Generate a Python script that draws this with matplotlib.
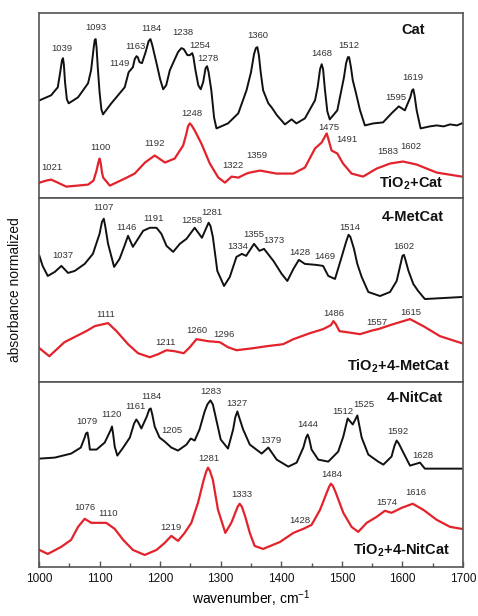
import matplotlib
matplotlib.use("Agg")
import matplotlib.pyplot as plt
from matplotlib.ticker import MultipleLocator

plt.rcParams['font.family'] = ['Liberation Sans', 'DejaVu Sans']

# ---------------- data (wavenumber cm-1, normalized absorbance, arbitrary offset units) -------------
cat_wn = [1001, 1020, 1031, 1035, 1038, 1039.6, 1041, 1043, 1046, 1049, 1064.5, 1081, 1086, 1090,
          1092, 1093.5, 1095, 1097, 1100, 1103, 1105.7, 1119.4, 1141.5, 1148, 1155, 1158, 1161, 1163,
          1166, 1170, 1176, 1181, 1184, 1187, 1194, 1200, 1205, 1210, 1216, 1229.5, 1235, 1239, 1245,
          1249, 1253, 1255, 1258, 1263, 1267, 1271, 1275, 1277.5, 1280, 1284.5, 1289, 1293, 1312, 1329,
          1342.6, 1350, 1355, 1358, 1360.5, 1363, 1366, 1370, 1378.6, 1384, 1393, 1406, 1417, 1425,
          1439, 1455.7, 1460, 1464, 1466.7, 1469, 1472, 1476, 1480, 1492.5, 1503.5, 1507, 1510, 1512,
          1515, 1518, 1523, 1530, 1538, 1552, 1568, 1582, 1594, 1604, 1613, 1616, 1618, 1620, 1623.5,
          1630, 1645, 1656.6, 1668, 1678.6, 1690, 1698]
cat_abs = [0.97, 1.02, 1.10, 1.25, 1.37, 1.39, 1.33, 1.15, 0.98, 0.94, 1.00, 1.14, 1.27, 1.48,
           1.57, 1.58, 1.50, 1.30, 1.05, 0.88, 0.83, 0.94, 1.10, 1.25, 1.30, 1.38, 1.41, 1.40,
           1.35, 1.34, 1.45, 1.56, 1.58, 1.52, 1.34, 1.18, 1.08, 1.12, 1.27, 1.45, 1.49, 1.48, 1.42,
           1.42, 1.44, 1.40, 1.28, 1.12, 1.08, 1.15, 1.29, 1.31, 1.25, 1.07, 0.80, 0.69, 0.74, 0.84,
           1.07, 1.25, 1.43, 1.49, 1.50, 1.42, 1.25, 1.07, 0.94, 0.90, 0.82, 0.73, 0.78, 0.74,
           0.79, 0.97, 1.10, 1.28, 1.33, 1.28, 1.08, 0.86, 0.78, 0.87, 1.20, 1.34, 1.40, 1.40,
           1.30, 1.17, 1.05, 0.87, 0.72, 0.74, 0.75, 0.84, 0.91, 0.87, 1.00, 1.07, 1.08, 1.02, 0.87,
           0.69, 0.71, 0.72, 0.71, 0.73, 0.72, 0.74]

tio2_cat_wn = [1001, 1012, 1020, 1031, 1045, 1081, 1090, 1095, 1098, 1100, 1102, 1104, 1106, 1117,
               1141.5, 1158, 1175, 1191, 1208, 1224, 1238, 1243, 1246, 1249, 1252, 1257, 1268, 1282,
               1296, 1307, 1318, 1329, 1342.6, 1348, 1365, 1392, 1420, 1439, 1455.7, 1466.7, 1473,
               1475, 1477.5, 1483, 1492.5, 1502, 1516, 1535, 1557.5, 1579.5, 1590, 1601, 1623.5,
               1656.6, 1698]
tio2_cat_abs = [0.15, 0.17, 0.18, 0.15, 0.11, 0.13, 0.17, 0.27, 0.35, 0.39, 0.34, 0.25, 0.20, 0.12,
                0.19, 0.24, 0.35, 0.42, 0.35, 0.39, 0.52, 0.63, 0.71, 0.74, 0.72, 0.67, 0.54, 0.34,
                0.20, 0.15, 0.21, 0.20, 0.24, 0.25, 0.27, 0.24, 0.24, 0.30, 0.49, 0.55, 0.62,
                0.64, 0.59, 0.47, 0.44, 0.34, 0.24, 0.21, 0.29, 0.34, 0.35, 0.36, 0.33,
                0.25, 0.21]

met_wn = [1000.7, 1006, 1014.5, 1026, 1037, 1048, 1059, 1075.4, 1089, 1100, 1104, 1107, 1109.5,
          1114, 1124, 1133, 1140.5, 1147, 1155, 1163.5, 1172, 1183, 1194, 1202, 1210.5, 1221.5,
          1232.5, 1243.5, 1257, 1269, 1277, 1280, 1283, 1287, 1294.4, 1305.5, 1315, 1326, 1335,
          1342, 1355, 1364, 1371.5, 1387, 1400.7, 1410, 1420, 1429, 1439, 1458, 1469, 1477.6,
          1488.7, 1499.7, 1507, 1511, 1514, 1520, 1525.5, 1532.7, 1543.7, 1563, 1579.5, 1590.5,
          1597, 1600, 1602.5, 1605, 1610, 1618, 1626, 1637, 1667.5, 1698]
met_abs = [1.26, 1.16, 1.06, 1.10, 1.16, 1.09, 1.11, 1.18, 1.28, 1.48, 1.60, 1.63, 1.55,
           1.38, 1.15, 1.23, 1.35, 1.46, 1.35, 1.43, 1.51, 1.54, 1.54, 1.48, 1.36, 1.30,
           1.38, 1.43, 1.54, 1.44, 1.55, 1.59, 1.56, 1.45, 1.11, 0.96, 1.05, 1.25, 1.28,
           1.26, 1.38, 1.31, 1.33, 1.21, 1.08, 1.01, 1.13, 1.22, 1.18, 1.17, 1.16, 1.06,
           1.03, 1.25, 1.40, 1.47, 1.45, 1.33, 1.18, 1.05, 0.90, 0.86, 0.90, 1.01,
           1.18, 1.26, 1.27, 1.22, 1.11, 0.98, 0.91, 0.83, 0.84, 0.85]

tio2_met_wn = [1000.7, 1017, 1042, 1061.6, 1078, 1092, 1114, 1128, 1147, 1163.5, 1183, 1196.5, 1210.5,
               1224, 1239, 1249, 1260, 1279, 1298.5, 1312, 1326, 1353.6, 1376, 1403, 1420, 1447.5,
               1469, 1482, 1486, 1490, 1496, 1508, 1530, 1552, 1560, 1585, 1612.5, 1634.5, 1662, 1698]
tio2_met_abs = [0.34, 0.26, 0.40, 0.46, 0.51, 0.56, 0.59, 0.51, 0.38, 0.29, 0.25, 0.28, 0.32,
                0.31, 0.29, 0.35, 0.43, 0.41, 0.40, 0.35, 0.32, 0.34, 0.36, 0.38, 0.43, 0.49,
                0.53, 0.57, 0.61, 0.58, 0.51, 0.50, 0.48, 0.52, 0.53, 0.58, 0.63, 0.56, 0.46, 0.39]

nit_wn = [1000.7, 1026, 1053, 1069, 1075.4, 1077.5, 1080, 1082, 1084, 1095, 1108.5, 1118, 1120.5,
          1122.5, 1125, 1129.3, 1139, 1150, 1157, 1160.7, 1164, 1169, 1178, 1182, 1184.5, 1187, 1191,
          1199, 1207.5, 1218.5, 1229.5, 1243.5, 1250.5, 1257, 1265, 1273.5, 1278, 1283, 1287, 1290,
          1300, 1312, 1320.5, 1324, 1327.5, 1330, 1337, 1348, 1367.6, 1378.6, 1392.4, 1411.6, 1425.4,
          1436.4, 1441, 1443.6, 1446, 1450, 1461, 1477.6, 1494, 1502.4, 1509.6, 1518, 1525.6,
          1532.7, 1543.7, 1560, 1568.5, 1582, 1587, 1590.5, 1594, 1601.5, 1612.5, 1629, 1637,
          1667.5, 1698]
nit_abs = [1.08, 1.09, 1.13, 1.19, 1.29, 1.33, 1.34, 1.27, 1.17, 1.17, 1.24, 1.36, 1.40,
           1.32, 1.20, 1.11, 1.19, 1.29, 1.43, 1.47, 1.44, 1.38, 1.50, 1.57, 1.58, 1.52, 1.40,
           1.29, 1.25, 1.19, 1.16, 1.22, 1.28, 1.26, 1.37, 1.55, 1.62, 1.66, 1.62, 1.54,
           1.27, 1.18, 1.37, 1.49, 1.55, 1.50, 1.37, 1.22, 1.13, 1.19, 1.07, 1.00, 1.04,
           1.19, 1.29, 1.32, 1.28, 1.17, 1.07, 1.05, 1.15, 1.30, 1.48, 1.42, 1.51,
           1.29, 1.12, 1.05, 1.02, 1.10, 1.21, 1.26, 1.23, 1.14, 1.01, 1.04, 0.98,
           0.98, 0.98]

tio2_nit_wn = [1000.7, 1014.5, 1036.5, 1053, 1064.5, 1075.4, 1086.4, 1097.5, 1111, 1125, 1139, 1155,
               1174.5, 1194, 1207.5, 1218.5, 1229.5, 1240.5, 1251.5, 1262.5, 1272, 1276, 1279, 1282,
               1287, 1295.5, 1307.6, 1317.5, 1328, 1331.3, 1335, 1340.6, 1348, 1356, 1370, 1398, 1420,
               1436.4, 1450, 1464, 1475, 1479, 1482, 1485, 1490, 1502.4, 1516, 1527, 1541, 1557.5,
               1571, 1582, 1599, 1617, 1634.5, 1656.6, 1678.6, 1698]
tio2_nit_abs = [0.17, 0.13, 0.20, 0.27, 0.40, 0.48, 0.44, 0.44, 0.44, 0.38, 0.27, 0.17,
                0.12, 0.17, 0.24, 0.31, 0.26, 0.34, 0.44, 0.64, 0.87, 0.95, 0.99, 0.96,
                0.87, 0.57, 0.34, 0.44, 0.60, 0.63, 0.60, 0.50, 0.34, 0.21, 0.18, 0.25, 0.34,
                0.38, 0.42, 0.57, 0.74, 0.80, 0.83, 0.81, 0.74, 0.54, 0.40, 0.35, 0.44, 0.50,
                0.56, 0.54, 0.59, 0.63, 0.57, 0.47, 0.40, 0.38]

# peak labels: (text, wavenumber, height)
cat_labels = [("1039", 1037.5, 1.49), ("1093", 1093.6, 1.70), ("1149", 1132.6, 1.34),
              ("1163", 1158.5, 1.51), ("1184", 1185, 1.69), ("1238", 1237, 1.65),
              ("1254", 1266, 1.52), ("1278", 1279.6, 1.39), ("1360", 1360.4, 1.62),
              ("1468", 1466.7, 1.44), ("1512", 1512, 1.52), ("1595", 1589, 1.00),
              ("1619", 1617, 1.20)]
tio2_cat_labels = [("1021", 1021, 0.30), ("1100", 1100.7, 0.50), ("1192", 1191.5, 0.54),
                   ("1248", 1253, 0.84), ("1322", 1319.8, 0.32), ("1359", 1359.4, 0.42),
                   ("1475", 1479, 0.70), ("1491", 1508, 0.58), ("1583", 1575, 0.46),
                   ("1602", 1613.6, 0.51)]
met_labels = [("1037", 1040, 1.26), ("1107", 1107, 1.74), ("1146", 1144.8, 1.54),
              ("1191", 1188.7, 1.63), ("1258", 1252, 1.61), ("1281", 1285, 1.69),
              ("1334", 1327.4, 1.35), ("1355", 1353.8, 1.47), ("1373", 1388.5, 1.41),
              ("1428", 1431, 1.29), ("1469", 1472, 1.25), ("1514", 1513.5, 1.54),
              ("1602", 1602.6, 1.35)]
tio2_met_labels = [("1111", 1110.6, 0.68), ("1211", 1209, 0.40), ("1260", 1260, 0.52),
                   ("1296", 1305.4, 0.48), ("1486", 1486, 0.69), ("1557", 1557.5, 0.60),
                   ("1615", 1613.7, 0.70)]
nit_labels = [("1079", 1079.8, 1.45), ("1120", 1120, 1.52), ("1161", 1158.5, 1.60),
              ("1184", 1186, 1.70), ("1205", 1219, 1.36), ("1283", 1283.5, 1.75),
              ("1327", 1327.4, 1.63), ("1379", 1382.5, 1.26), ("1444", 1443.6, 1.42),
              ("1512", 1502.4, 1.55), ("1525", 1537, 1.62), ("1592", 1593, 1.35),
              ("1628", 1634.5, 1.11)]
tio2_nit_labels = [("1281", 1281, 1.08), ("1076", 1076, 0.59), ("1110", 1114.5, 0.53),
                   ("1219", 1218, 0.39), ("1333", 1335.6, 0.72), ("1428", 1431, 0.46),
                   ("1484", 1483, 0.92), ("1574", 1574, 0.64), ("1616", 1622.4, 0.74)]

panel_names = ["Cat", "4-MetCat", "4-NitCat"]
tio2_names = [r"TiO$_\mathregular{2}$+Cat", r"TiO$_\mathregular{2}$+4-MetCat",
              r"TiO$_\mathregular{2}$+4-NitCat"]
name_pos = [(1618, 1.67), (1617, 1.65), (1620.8, 1.68)]
tio2_name_pos = [(1615, 0.14), (1593, 0.16), (1598.8, 0.17)]

x_ticks = [1000, 1100, 1200, 1300, 1400, 1500, 1600, 1700]

# ---------------- figure ----------------
fig = plt.figure(figsize=(4.78, 6.16), dpi=100)
L, R = 39 / 478, 463 / 478
B, T = (616 - 567) / 616, (616 - 13) / 616
h = (T - B) / 3

black = "#111111"
red = "#e3232c"
frame = "#555555"
lab_col = "#333333"

panels = [
    (cat_wn, cat_abs, tio2_cat_wn, tio2_cat_abs, cat_labels, tio2_cat_labels),
    (met_wn, met_abs, tio2_met_wn, tio2_met_abs, met_labels, tio2_met_labels),
    (nit_wn, nit_abs, tio2_nit_wn, tio2_nit_abs, nit_labels, tio2_nit_labels),
]

axes = []
for i, (bx, by, rx, ry, blab, rlab) in enumerate(panels):
    ax = fig.add_axes([L, T - (i + 1) * h, R - L, h])
    axes.append(ax)
    ax.plot(bx, by, color=black, lw=1.4, solid_joinstyle='round')
    ax.plot(rx, ry, color=red, lw=1.6, solid_joinstyle='round')
    for txt, x, y in blab:
        ax.text(x, y, txt, fontsize=6.8, color=lab_col, ha='center', va='center')
    for txt, x, y in rlab:
        ax.text(x, y, txt, fontsize=6.8, color=lab_col, ha='center', va='center')
    ax.text(name_pos[i][0], name_pos[i][1], panel_names[i], fontsize=10.5,
            fontweight='bold', color=black, ha='center', va='center')
    ax.text(tio2_name_pos[i][0], tio2_name_pos[i][1], tio2_names[i], fontsize=10.5,
            fontweight='bold', color=black, ha='center', va='center')
    ax.set_xlim(1000, 1700)
    ax.set_ylim(0, 1.84)
    ax.set_yticks([])
    for s in ax.spines.values():
        s.set_color(frame)
        s.set_linewidth(1.2)
    if i < 2:
        ax.set_xticks([])
    else:
        ax.set_xticks(x_ticks)
        ax.xaxis.set_minor_locator(MultipleLocator(50))
        ax.tick_params(axis='x', which='both', direction='in', color=frame,
                       labelsize=8.5, labelcolor=black, pad=4)
        ax.tick_params(axis='x', which='major', length=4, width=1)
        ax.tick_params(axis='x', which='minor', length=3, width=1)
        ax.set_xlabel(r"wavenumber, cm$^\mathregular{-1}$", fontsize=10, labelpad=3)

fig.text(0.032, (T + B) / 2, "absorbance normalized", rotation=90, fontsize=10,
         ha='center', va='center', color=black)

fig.savefig("out.png", dpi=100)
